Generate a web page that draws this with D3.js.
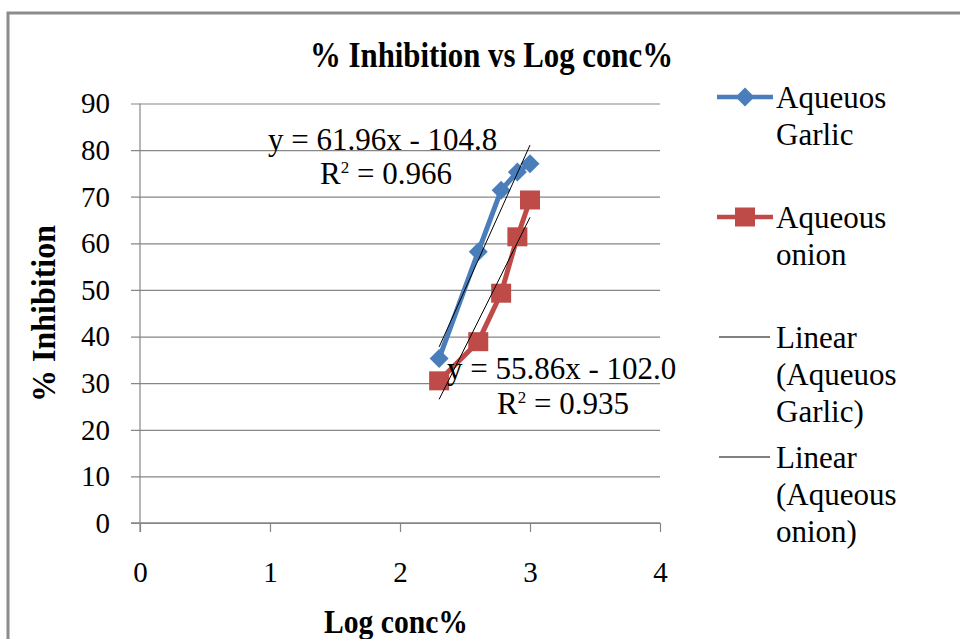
<!DOCTYPE html>
<html>
<head>
<meta charset="utf-8">
<script src="https://cdn.jsdelivr.net/npm/d3@7"></script>
<style>
  html, body { margin: 0; padding: 0; background: #fff; }
  svg { display: block; font-family: "Liberation Serif", "Times New Roman", serif; }
</style>
</head>
<body>
<svg id="chart" width="960" height="639"></svg>
<script>
// ---- data ----
const logConc = [2.301, 2.602, 2.778, 2.903, 3.0];
const garlicInhibition = [35.3, 58.2, 71.4, 75.3, 77.1];
const onionInhibition = [30.5, 38.9, 49.3, 61.4, 69.3];
const seriesNames = ["Aqueuos Garlic", "Aqueous onion"];
const trendSlopes = [61.96, 55.86];
const trendIntercepts = [-104.8, -102.0];
const trendLabels = ["y = 61.96x - 104.8", "y = 55.86x - 102.0"];
const r2Labels = ["0.966", "0.935"];
const xTicks = [0, 1, 2, 3, 4];
const yTicks = [0, 10, 20, 30, 40, 50, 60, 70, 80, 90];
const legendLabels = [["Aqueuos", "Garlic"], ["Aqueous", "onion"], ["Linear", "(Aqueuos", "Garlic)"], ["Linear", "(Aqueous", "onion)"]];

// ---- layout ----
const svg = d3.select("#chart");
const x = d3.scaleLinear().domain([0, 4]).range([140, 660]);
const y = d3.scaleLinear().domain([0, 90]).range([523, 103.5]);
const gridColor = "#868686";
const colors = ["#4a7ebb", "#be4b48"];
const font = "Liberation Serif";

// outer chart border
svg.append("rect").attr("x", 8).attr("y", 13).attr("width", 1000).attr("height", 700)
  .attr("fill", "none").attr("stroke", "#8c8c8c").attr("stroke-width", 3);

// title
svg.append("text").attr("x", 310).attr("y", 67)
  .attr("font-size", 35).attr("font-weight", "bold")
  .attr("textLength", 363).attr("lengthAdjust", "spacingAndGlyphs")
  .text("% Inhibition vs Log conc%");

// y gridlines + ticks
const yAxis = d3.axisLeft(y).tickValues(yTicks).tickSize(-(660 - 140)).tickSizeOuter(0).tickPadding(30);
const gy = svg.append("g").attr("transform", "translate(140,0)").call(yAxis);
gy.select(".domain").remove();
gy.selectAll(".tick line").attr("stroke", gridColor).attr("stroke-width", 1.2).attr("x1", -9);
gy.selectAll(".tick text").attr("font-size", 29).attr("font-family", font).attr("fill", "#000");

// y axis line
svg.append("line").attr("x1", 140).attr("x2", 140).attr("y1", y(90)).attr("y2", y(0) + 9)
  .attr("stroke", gridColor).attr("stroke-width", 1.2);

// x axis
const xAxis = d3.axisBottom(x).tickValues(xTicks).tickSize(9).tickSizeOuter(0).tickPadding(29).tickFormat(d3.format("d"));
const gx = svg.append("g").attr("transform", `translate(0,${y(0)})`).call(xAxis);
gx.select(".domain").attr("stroke", gridColor).attr("stroke-width", 1.6).attr("d", `M131,0H660`);
gx.selectAll(".tick line").attr("stroke", gridColor).attr("stroke-width", 1.2);
gx.selectAll(".tick text").attr("font-size", 29).attr("font-family", font).attr("fill", "#000");

// axis titles
svg.append("text").attr("transform", "translate(55,313.5) rotate(-90)")
  .attr("text-anchor", "middle").attr("font-size", 34).attr("font-weight", "bold")
  .attr("textLength", 177).attr("lengthAdjust", "spacingAndGlyphs")
  .text("% Inhibition");
svg.append("text").attr("x", 396).attr("y", 633)
  .attr("text-anchor", "middle").attr("font-size", 34).attr("font-weight", "bold")
  .attr("textLength", 144).attr("lengthAdjust", "spacingAndGlyphs")
  .text("Log conc%");

// series
const seriesData = [garlicInhibition, onionInhibition];
const line = d3.line().x(d => x(d[0])).y(d => y(d[1]));
const diamond = "M0,-9.5L9.5,0L0,9.5L-9.5,0Z";

seriesData.forEach((vals, i) => {
  const pts = logConc.map((c, j) => [c, vals[j]]);
  svg.append("path").datum(pts).attr("d", line)
    .attr("fill", "none").attr("stroke", colors[i]).attr("stroke-width", 5)
    .attr("stroke-linejoin", "round");
  const g = svg.append("g");
  if (i === 0) {
    g.selectAll("path").data(pts).join("path")
      .attr("d", diamond).attr("transform", d => `translate(${x(d[0])},${y(d[1])})`)
      .attr("fill", colors[i]);
  } else {
    g.selectAll("rect").data(pts).join("rect")
      .attr("x", d => x(d[0]) - 10).attr("y", d => y(d[1]) - 9.5)
      .attr("width", 20).attr("height", 19).attr("fill", colors[i]);
  }
});

// trendlines
const xMin = d3.min(logConc), xMax = d3.max(logConc);
trendSlopes.forEach((m, i) => {
  const b = trendIntercepts[i];
  svg.append("line")
    .attr("x1", x(xMin)).attr("y1", y(m * xMin + b))
    .attr("x2", x(xMax)).attr("y2", y(m * xMax + b))
    .attr("stroke", "#000").attr("stroke-width", 1);
});

// trendline labels
const labelPos = [[268, 150, 320, 184], [447, 379, 497, 414]];
trendLabels.forEach((t, i) => {
  const p = labelPos[i];
  svg.append("text").attr("x", p[0]).attr("y", p[1]).attr("font-size", 31).text(t);
  const r = svg.append("text").attr("x", p[2]).attr("y", p[3]).attr("font-size", 31);
  r.append("tspan").text("R");
  r.append("tspan").attr("font-size", 17).attr("dy", -11).text("2");
  r.append("tspan").attr("dy", 11).text(" = " + r2Labels[i]);
});

// legend
const legendY = [97, 217, 337, 457];
legendLabels.forEach((lines, i) => {
  const cy = legendY[i];
  const lg = svg.append("g");
  if (i < 2) {
    lg.append("line").attr("x1", 717).attr("x2", 773).attr("y1", cy).attr("y2", cy)
      .attr("stroke", colors[i]).attr("stroke-width", 4.5);
    if (i === 0) {
      lg.append("path").attr("d", diamond).attr("transform", `translate(745,${cy})`).attr("fill", colors[i]);
    } else {
      lg.append("rect").attr("x", 735).attr("y", cy - 9.5).attr("width", 20).attr("height", 19).attr("fill", colors[i]);
    }
  } else {
    lg.append("line").attr("x1", 719).attr("x2", 770).attr("y1", cy).attr("y2", cy)
      .attr("stroke", "#000").attr("stroke-width", 1);
  }
  lines.forEach((t, k) => {
    lg.append("text").attr("x", 776).attr("y", cy + 11 + k * 37)
      .attr("font-size", 31).text(t);
  });
});
</script>
</body>
</html>
